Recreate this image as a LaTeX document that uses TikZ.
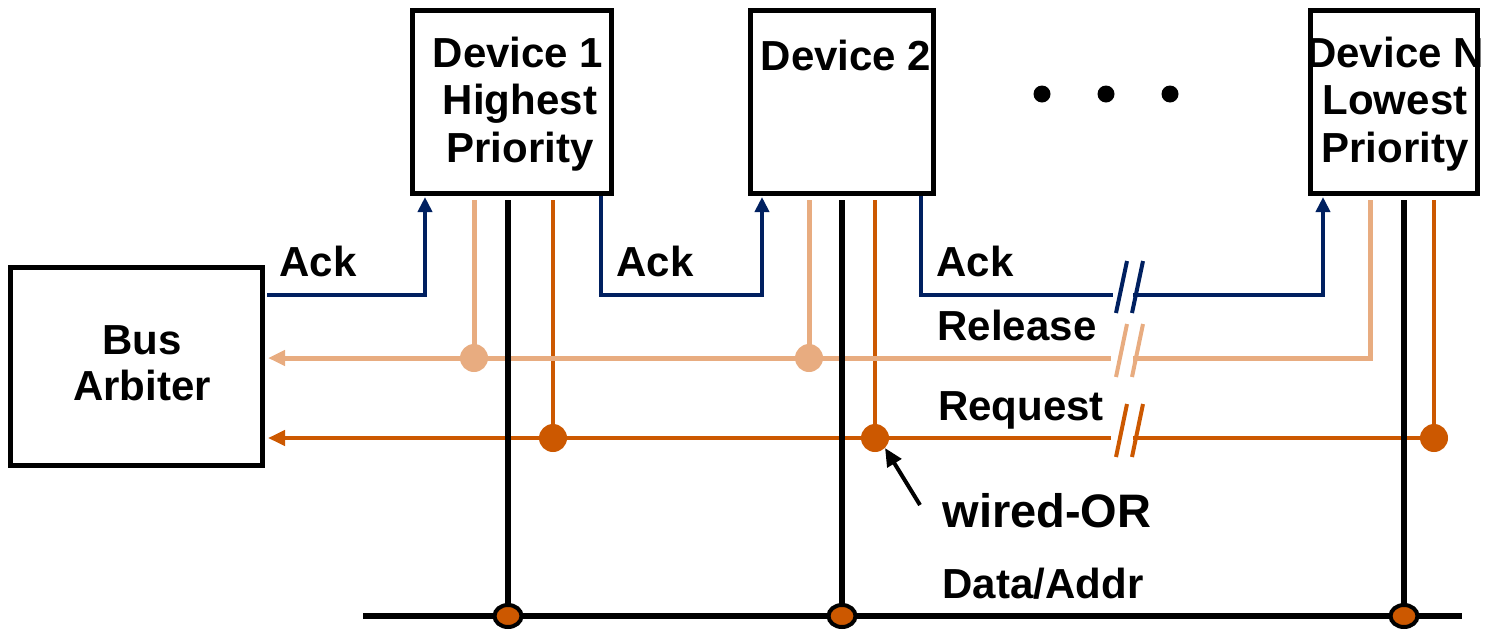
\documentclass[tikz,border=0pt]{standalone}
\usepackage{fontspec}
\setmainfont{Liberation Sans}
\usetikzlibrary{arrows.meta}
\definecolor{ackc}{RGB}{0,32,96}
\definecolor{relc}{RGB}{232,172,128}
\definecolor{reqc}{RGB}{204,88,0}
\tikzset{
  box/.style={draw=black, line width=5pt, inner sep=0pt, minimum height=183pt},
  lbl/.style={font=\fontsize{42}{47}\selectfont\bfseries, inner sep=0pt, anchor=base},
  big/.style={font=\fontsize{47}{52}\selectfont\bfseries, inner sep=0pt, anchor=base},
  ack/.style={draw=ackc, line width=4pt},
  rel/.style={draw=relc, line width=5pt},
  req/.style={draw=reqc, line width=4pt},
  dat/.style={draw=black, line width=6pt},
  acktip/.style={-{Triangle[width=14pt,length=15pt]}},
  lefttip/.style={-{Triangle[width=15pt,length=17pt]}},
  brk/.style={line width=4pt},
  tap/.style={circle, inner sep=0pt, minimum size=28pt},
  busdot/.style={ellipse, draw=black, fill=reqc, line width=4pt, inner sep=0pt, minimum width=27pt, minimum height=22pt}
}
\usetikzlibrary{shapes.geometric}
\begin{document}
\begin{tikzpicture}[x=1pt,y=-1pt]
\useasboundingbox (0,0) rectangle (1499,630);

% boxes
\node[box, minimum width=252pt, minimum height=198pt] (arb) at (136,366) {};
\node[box, minimum width=199pt] (dev1) at (512,102) {};
\node[box, minimum width=183pt] (dev2) at (842,102) {};
\node[box, minimum width=167pt] (devN) at (1394,102) {};

% box texts
\node[lbl] (t1a) at (518,67) {Device 1};
\node[lbl] (t1b) at (520,114) {Highest};
\node[lbl] (t1c) at (520,162) {Priority};
\node[lbl] (t2a) at (846,70) {Device 2};
\node[lbl] (tna) at (1395,67) {Device N};
\node[lbl] (tnb) at (1395,114) {Lowest};
\node[lbl] (tnc) at (1395,162) {Priority};
\node[lbl] (tba) at (142,354) {Bus};
\node[lbl] (tbb) at (142,400) {Arbiter};

% ellipsis dots
\fill (1042,94) circle (8.5);
\fill (1106,94) circle (8.5);
\fill (1170,94) circle (8.5);

% coordinates
\coordinate (k0) at (267,295);
\coordinate (k1) at (425,295);
\coordinate (k1t) at (425,197);
\coordinate (k2s) at (601,196);
\coordinate (k2a) at (601,295);
\coordinate (k2b) at (762,295);
\coordinate (k2t) at (762,197);
\coordinate (k3s) at (921,196);
\coordinate (k3a) at (921,295);
\coordinate (k3b) at (1113,295);
\coordinate (k3c) at (1133,295);
\coordinate (k3d) at (1323,295);
\coordinate (k3t) at (1323,197);

\coordinate (r1s) at (474,200);
\coordinate (r2s) at (809,200);
\coordinate (rNs) at (1370,200);
\coordinate (rNc) at (1370,358);
\coordinate (rB) at (1133,358);
\coordinate (rA) at (1111,358);
\coordinate (rE) at (268,358);

\coordinate (q1s) at (553,200);
\coordinate (q2s) at (875,200);
\coordinate (qNs) at (1434,200);
\coordinate (qB) at (1133,438);
\coordinate (qA) at (1111,438);
\coordinate (qE) at (268,438);

% Ack
\draw[ack, acktip] (k0) -- (k1) -- (k1t);
\draw[ack, acktip] (k2s) -- (k2a) -- (k2b) -- (k2t);
\draw[ack] (k3s) -- (k3a) -- (k3b);
\draw[ack, acktip] (k3c) -- (k3d) -- (k3t);
\draw[ackc, brk] (1116,313) -- (1127,261);
\draw[ackc, brk] (1132,313) -- (1143,261);

% Request
\node[tap, fill=reqc] (q1) at (553,438) {};
\node[tap, fill=reqc] (q2) at (875,438) {};
\node[tap, fill=reqc] (qN) at (1434,438) {};
\draw[req] (q1s) -- (q1.center);
\draw[req] (q2s) -- (q2.center);
\draw[req] (qNs) -- (qN.center);
\draw[req] (qN.center) -- (qB);
\draw[req, lefttip] (qA) -- (qE);
\draw[reqc, brk] (1116,457) -- (1127,404);
\draw[reqc, brk] (1132,457) -- (1143,404);

% Release
\node[tap, fill=relc] (r1) at (474,358) {};
\node[tap, fill=relc] (r2) at (809,358) {};
\draw[rel] (r1s) -- (r1.center);
\draw[rel] (r2s) -- (r2.center);
\draw[rel] (rNs) -- (rNc) -- (rB);
\draw[rel, lefttip] (rA) -- (rE);
\draw[relc, brk] (1116,377) -- (1127,324);
\draw[relc, brk] (1132,377) -- (1143,324);

% Data/Addr
\coordinate (dL) at (363,616);
\coordinate (dR) at (1462,616);
\draw[dat] (dL) -- (dR);
\coordinate (d1s) at (508,200);
\coordinate (d2s) at (842,200);
\coordinate (dNs) at (1404,200);
\draw[dat] (d1s) -- (508,616);
\draw[dat] (d2s) -- (842,616);
\draw[dat] (dNs) -- (1404,616);
\node[busdot] (b1) at (508,616) {};
\node[busdot] (b2) at (842,616) {};
\node[busdot] (bN) at (1404,616) {};

% labels
\node[lbl] (la1) at (318,276) {Ack};
\node[lbl] (la2) at (655,276) {Ack};
\node[lbl] (la3) at (975,276) {Ack};
\node[lbl] (lrel) at (1017,340) {Release};
\node[lbl] (lreq) at (1021,420) {Request};
\node[lbl] (ldat) at (1043,598) {Data/Addr};
\node[big] (lwor) at (1047,527) {wired-OR};

% wired-OR pointer
\coordinate (wo) at (920,505);
\draw[line width=4pt, -{Triangle[width=16pt,length=18pt]}] (wo) -- (q2.south east);
\end{tikzpicture}
\end{document}
